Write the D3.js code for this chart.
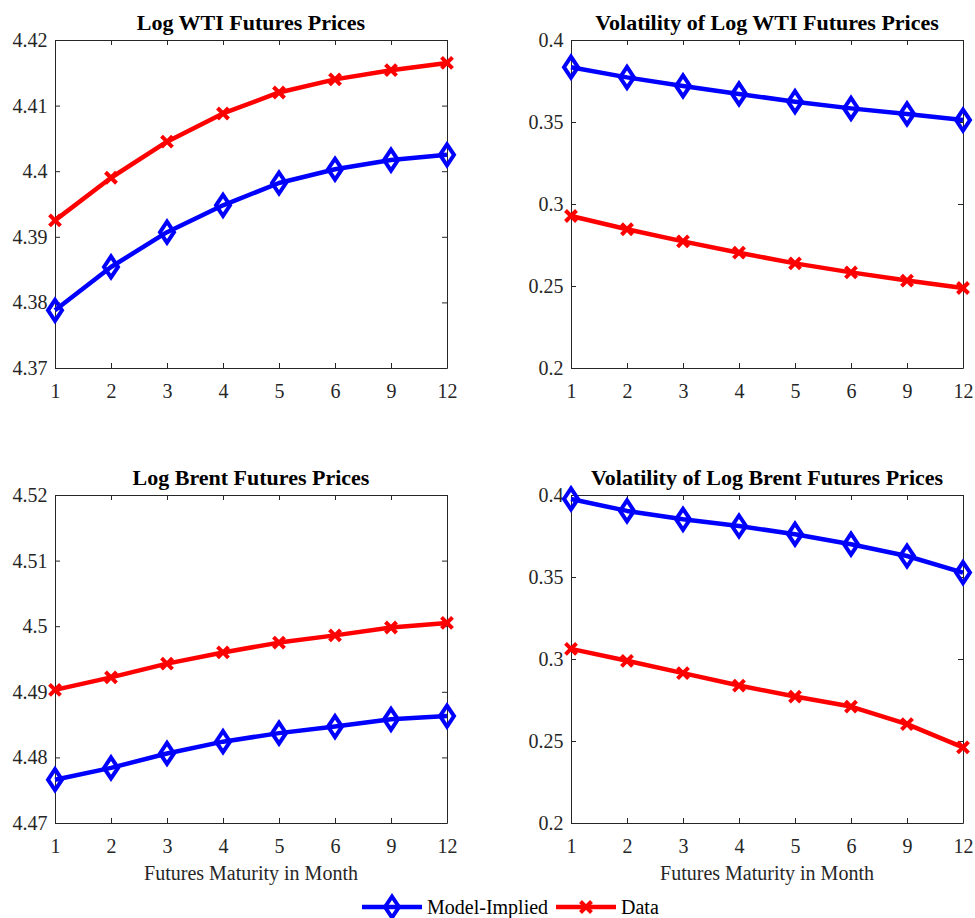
<!DOCTYPE html>
<html>
<head>
<meta charset="utf-8">
<script src="https://cdn.jsdelivr.net/npm/d3@7"></script>
<style>
  body { margin: 0; background: #fff; }
  svg { display: block; }
</style>
</head>
<body>
<div id="chart"></div>
<script>
// maturities (months) shown as evenly spaced categories
const maturities = ["1", "2", "3", "4", "5", "6", "9", "12"];

// Log WTI futures prices
const wtiModel = [4.3788, 4.3854, 4.3907, 4.3948, 4.3982, 4.4003, 4.4017, 4.4025];
const wtiData  = [4.3925, 4.3990, 4.4045, 4.4088, 4.4120, 4.4140, 4.4154, 4.4165];

// Volatility of log WTI futures prices
const wtiVolModel = [0.3834, 0.3772, 0.3720, 0.3671, 0.3624, 0.3583, 0.3549, 0.3512];
const wtiVolData  = [0.2927, 0.2846, 0.2772, 0.2703, 0.2638, 0.2583, 0.2533, 0.2488];

// Log Brent futures prices
const brentModel = [4.4766, 4.4784, 4.4806, 4.4824, 4.4837, 4.4847, 4.4858, 4.4863];
const brentData  = [4.4903, 4.4922, 4.4943, 4.4960, 4.4975, 4.4986, 4.4998, 4.5005];

// Volatility of log Brent futures prices
const brentVolModel = [0.3976, 0.3903, 0.3852, 0.3811, 0.3761, 0.3700, 0.3628, 0.3527];
const brentVolData  = [0.3062, 0.2989, 0.2914, 0.2838, 0.2771, 0.2710, 0.2603, 0.2461];

// y ticks for each panel
const wtiTicks = [4.37, 4.38, 4.39, 4.40, 4.41, 4.42];
const brentTicks = [4.47, 4.48, 4.49, 4.50, 4.51, 4.52];
const volTicks = [0.2, 0.25, 0.3, 0.35, 0.4];

const seriesNames = ["Model-Implied", "Data"];
const xLabel = "Futures Maturity in Month";

const width = 975;
const height = 918;
const font = "'Liberation Serif', 'Times New Roman', serif";
const axisColor = "#262626";
const blue = "#0000ff";
const red = "#ff0000";

const svg = d3.select("#chart")
  .append("svg")
  .attr("width", width)
  .attr("height", height);

const panels = [
  { title: "Log WTI Futures Prices", model: wtiModel, data: wtiData, ticks: wtiTicks,
    x0: 55, x1: 447, y0: 40, y1: 368, xlabel: false },
  { title: "Volatility of Log WTI Futures Prices", model: wtiVolModel, data: wtiVolData, ticks: volTicks,
    x0: 571, x1: 963, y0: 40, y1: 368, xlabel: false },
  { title: "Log Brent Futures Prices", model: brentModel, data: brentData, ticks: brentTicks,
    x0: 55, x1: 447, y0: 495, y1: 823, xlabel: true },
  { title: "Volatility of Log Brent Futures Prices", model: brentVolModel, data: brentVolData, ticks: volTicks,
    x0: 571, x1: 963, y0: 495, y1: 823, xlabel: true }
];

// marker shapes
const diamondPath = "M0,-10.5L7,0L0,10.5L-7,0Z";
const crossPath = "M-5.5,-5.5L5.5,5.5M-5.5,5.5L5.5,-5.5";

const fmt = d => String(+d.toFixed(3));

function styleAxis(g) {
  g.selectAll("path.domain").attr("stroke", axisColor).attr("stroke-width", 1);
  g.selectAll(".tick line").attr("stroke", axisColor).attr("stroke-width", 1);
  g.selectAll(".tick text")
    .attr("fill", axisColor)
    .style("font-family", font)
    .style("font-size", "20px");
}

panels.forEach(p => {
  const x = d3.scalePoint().domain(maturities).range([p.x0, p.x1]).padding(0);
  const y = d3.scaleLinear()
    .domain([p.ticks[0], p.ticks[p.ticks.length - 1]])
    .range([p.y1, p.y0]);

  const g = svg.append("g");

  // left & bottom axes with inward ticks
  g.append("g")
    .attr("transform", `translate(${p.x0},0)`)
    .call(d3.axisLeft(y).tickValues(p.ticks).tickFormat(fmt).tickSizeInner(-5).tickSizeOuter(0).tickPadding(7.5))
    .call(styleAxis);

  g.append("g")
    .attr("transform", `translate(0,${p.y1})`)
    .call(d3.axisBottom(x).tickSizeInner(-5).tickSizeOuter(0).tickPadding(16))
    .call(styleAxis);

  // right & top box edges with inward ticks, no labels
  g.append("g")
    .attr("transform", `translate(${p.x1},0)`)
    .call(d3.axisRight(y).tickValues(p.ticks).tickFormat("").tickSizeInner(-5).tickSizeOuter(0))
    .call(styleAxis);

  g.append("g")
    .attr("transform", `translate(0,${p.y0})`)
    .call(d3.axisTop(x).tickFormat("").tickSizeInner(-5).tickSizeOuter(0))
    .call(styleAxis);

  // title
  g.append("text")
    .attr("x", (p.x0 + p.x1) / 2)
    .attr("y", p.y0 - 10)
    .attr("text-anchor", "middle")
    .style("font-family", font)
    .style("font-size", "22px")
    .style("font-weight", "bold")
    .attr("fill", "#000")
    .text(p.title);

  if (p.xlabel) {
    g.append("text")
      .attr("x", (p.x0 + p.x1) / 2)
      .attr("y", p.y1 + 57)
      .attr("text-anchor", "middle")
      .style("font-family", font)
      .style("font-size", "20px")
      .attr("fill", axisColor)
      .text(xLabel);
  }

  const line = d3.line()
    .x((d, i) => x(maturities[i]))
    .y(d => y(d));

  const series = [
    { values: p.model, color: blue, marker: diamondPath },
    { values: p.data, color: red, marker: crossPath }
  ];

  series.forEach(s => {
    g.append("path")
      .datum(s.values)
      .attr("fill", "none")
      .attr("stroke", s.color)
      .attr("stroke-width", 4.5)
      .attr("stroke-linejoin", "round")
      .attr("d", line);

    g.selectAll(null)
      .data(s.values)
      .enter()
      .append("path")
      .attr("transform", (d, i) => `translate(${x(maturities[i])},${y(d)})`)
      .attr("d", s.marker)
      .attr("fill", "none")
      .attr("stroke", s.color)
      .attr("stroke-width", 4);
  });
});

// Legend
const legendY = 907;
const legendItems = [
  { name: seriesNames[0], color: blue, marker: diamondPath, x: 362 },
  { name: seriesNames[1], color: red, marker: crossPath, x: 556 }
];

const legend = svg.append("g").attr("class", "legend");
legendItems.forEach(item => {
  legend.append("line")
    .attr("x1", item.x)
    .attr("x2", item.x + 60)
    .attr("y1", legendY)
    .attr("y2", legendY)
    .attr("stroke", item.color)
    .attr("stroke-width", 4.5);
  legend.append("path")
    .attr("transform", `translate(${item.x + 30},${legendY})`)
    .attr("d", item.marker)
    .attr("fill", "none")
    .attr("stroke", item.color)
    .attr("stroke-width", 4);
  legend.append("text")
    .attr("x", item.x + 65)
    .attr("y", legendY + 7)
    .style("font-family", font)
    .style("font-size", "20px")
    .attr("fill", "#000")
    .text(item.name);
});
</script>
</body>
</html>
